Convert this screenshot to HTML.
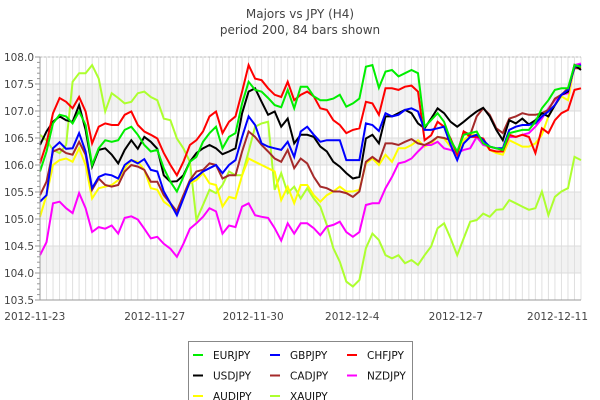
<!DOCTYPE html>
<html><head><meta charset="utf-8"><style>
body{margin:0;background:#fff;}
svg{display:block;font-family:"DejaVu Sans","Liberation Sans",sans-serif;}
</style></head><body>
<svg id="chart" width="600" height="400" viewBox="0 0 600 400">
<text x="300" y="18" text-anchor="middle" font-size="12" fill="#444">Majors vs JPY (H4)</text>
<text x="300" y="34" text-anchor="middle" font-size="12" fill="#444">period 200, 84 bars shown</text>
<g id="grid"></g>
<g id="series"></g>
<g id="axes"></g>
<g id="legend"></g>
</svg>
<script>
const names = ["EURJPY","GBPJPY","CHFJPY","USDJPY","CADJPY","NZDJPY","AUDJPY","XAUJPY"];
const colors = ["#00ee00","#0000ff","#ff0000","#000000","#a52a2a","#ff00ff","#ffff00","#adff2f"];
const yTicks = [103.5,104.0,104.5,105.0,105.5,106.0,106.5,107.0,107.5,108.0];
const xTickLabels = ["2012-11-23","2012-11-27","2012-11-30","2012-12-4","2012-12-7","2012-12-11"];
const xTickBars = [-0.8,17.6,32.7,47.9,63.8,79.4];
const eurjpy = [105.88,106.25,106.77,106.93,106.9,106.77,106.99,106.74,106.0,106.31,106.46,106.43,106.46,106.65,106.71,106.56,106.37,106.25,106.28,105.94,105.69,105.51,
105.78,106.06,106.15,106.43,106.59,106.71,106.31,106.52,106.59,107.14,107.54,107.39,107.36,107.24,107.11,107.07,107.39,107.05,107.45,
107.45,107.27,107.2,107.2,107.23,107.3,107.08,107.14,107.23,107.82,107.85,107.43,107.73,107.76,107.64,107.7,107.76,107.7,106.71,106.83,106.96,
106.8,106.46,106.25,106.56,106.59,106.62,106.4,106.34,106.31,106.28,106.59,106.62,106.65,106.65,106.8,107.05,107.2,107.39,107.42,107.42,107.85,107.82];
const gbpjpy = [105.32,105.44,106.31,106.42,106.3,106.31,106.59,106.25,105.57,105.78,105.83,105.81,105.75,106.0,106.09,106.03,106.11,105.91,105.88,105.51,105.29,105.07,
105.38,105.69,105.78,105.88,105.94,106.0,105.85,106.0,106.09,106.52,106.9,106.74,106.4,106.34,106.31,106.28,106.43,106.15,106.62,
106.71,106.56,106.43,106.46,106.46,106.46,106.09,106.09,106.09,106.77,106.74,106.63,106.96,106.9,106.93,107.02,107.05,106.99,106.65,106.65,106.68,
106.71,106.37,106.09,106.4,106.52,106.56,106.46,106.34,106.31,106.31,106.65,106.71,106.74,106.74,106.77,106.9,106.99,107.11,107.3,107.39,107.82,107.85];
const chfjpy = [106.03,106.4,106.96,107.24,107.17,107.05,107.26,106.99,106.4,106.71,106.77,106.74,106.74,106.93,106.99,106.74,106.62,106.56,106.49,106.22,106.0,105.81,
106.06,106.37,106.46,106.62,106.9,106.99,106.59,106.8,106.9,107.36,107.85,107.6,107.57,107.42,107.3,107.26,107.54,107.2,107.3,
107.36,107.27,107.05,107.02,106.83,106.74,106.59,106.65,106.68,107.17,107.14,106.93,107.42,107.42,107.39,107.45,107.47,107.36,106.46,106.55,106.8,
106.71,106.49,106.19,106.62,106.52,106.52,106.49,106.28,106.25,106.25,106.56,106.52,106.56,106.52,106.22,106.68,106.59,106.83,106.96,107.02,107.39,107.42];
const usdjpy = [106.37,106.62,106.8,106.9,106.83,106.8,107.11,106.65,105.97,106.28,106.31,106.19,106.03,106.28,106.46,106.3,106.52,106.43,106.3,105.81,105.69,105.7,
105.81,106.06,106.22,106.31,106.37,106.31,106.2,106.25,106.31,106.96,107.36,107.42,107.17,106.93,106.99,106.71,106.86,106.4,106.56,
106.56,106.52,106.34,106.25,106.06,105.97,105.85,105.75,105.78,106.49,106.56,106.4,106.9,106.9,106.96,107.02,106.96,106.77,106.68,106.86,107.05,
106.96,106.8,106.71,106.8,106.9,106.99,107.06,106.9,106.65,106.46,106.83,106.77,106.86,106.75,106.83,106.96,106.9,107.11,107.3,107.36,107.85,107.76];
const cadjpy = [105.44,105.69,106.25,106.3,106.22,106.19,106.43,106.19,105.54,105.75,105.63,105.6,105.63,105.88,106.0,105.97,105.91,105.69,105.69,105.44,105.29,105.14,
105.44,105.72,105.88,105.91,106.03,106.0,105.75,105.81,105.81,106.25,106.62,106.52,106.37,106.25,106.12,106.06,106.28,105.94,106.12,
106.03,105.78,105.6,105.57,105.51,105.51,105.48,105.41,105.51,106.06,106.15,106.06,106.4,106.4,106.37,106.43,106.48,106.4,106.37,106.43,106.52,
106.5,106.46,106.22,106.62,106.56,106.9,107.05,106.93,106.68,106.59,106.86,106.9,106.96,106.93,106.93,106.96,107.02,107.23,107.3,107.42,107.79,107.79];
const nzdjpy = [104.33,104.57,105.29,105.32,105.2,105.11,105.48,105.2,104.76,104.85,104.82,104.88,104.73,105.02,105.05,104.99,104.82,104.64,104.67,104.54,104.45,104.3,
104.54,104.82,104.92,105.04,105.2,105.14,104.73,104.88,104.85,105.23,105.29,105.07,105.04,105.02,104.83,104.6,104.92,104.73,104.92,
104.92,104.83,104.7,104.86,104.89,104.95,104.76,104.67,104.76,105.26,105.29,105.29,105.57,105.78,106.03,106.06,106.12,106.25,106.37,106.37,106.43,
106.31,106.28,106.22,106.28,106.31,106.52,106.37,106.34,106.31,106.28,106.52,106.52,106.56,106.59,106.71,106.86,107.05,107.2,107.3,107.33,107.85,107.88];
const audjpy = [105.04,105.44,106.0,106.09,106.12,106.06,106.31,106.0,105.38,105.57,105.6,105.63,105.72,105.94,106.09,106.06,105.91,105.57,105.54,105.32,105.23,105.14,
105.44,105.66,105.72,105.85,105.66,105.63,105.23,105.41,105.38,105.81,106.12,106.06,106.0,105.94,105.88,105.35,105.6,105.29,105.63,
105.63,105.44,105.32,105.44,105.51,105.6,105.51,105.51,105.54,106.03,106.12,106.0,106.19,106.06,106.31,106.31,106.37,106.46,106.34,106.4,106.52,
106.49,106.34,106.19,106.46,106.56,106.56,106.43,106.28,106.22,106.19,106.46,106.4,106.34,106.34,106.4,106.56,106.9,107.11,107.27,107.2,107.85,107.79];
const xaujpy = [106.56,106.46,106.28,106.22,106.37,107.54,107.7,107.7,107.85,107.6,106.99,107.33,107.24,107.14,107.17,107.33,107.36,107.26,107.2,106.86,106.83,106.49,
106.31,106.06,104.98,105.26,105.54,105.48,105.63,105.88,105.81,105.81,106.25,106.71,106.77,106.8,105.54,105.85,105.48,105.6,105.38,
105.57,105.38,105.23,104.89,104.46,104.21,103.84,103.75,103.87,104.46,104.73,104.61,104.33,104.27,104.33,104.18,104.24,104.15,104.33,104.49,104.83,
104.92,104.64,104.33,104.64,104.95,104.98,105.1,105.04,105.17,105.18,105.35,105.29,105.23,105.17,105.2,105.51,105.07,105.41,105.51,105.57,106.15,106.09];
const seriesData = [eurjpy,gbpjpy,chfjpy,usdjpy,cadjpy,nzdjpy,audjpy,xaujpy];
const drawOrder = [7,6,5,4,3,2,1,0];

const NS="http://www.w3.org/2000/svg";
const L=40,R=581,T=57,B=300,yMin=103.5,yMax=108.0,nBars=84;
const xs=i=>L+(R-L)*i/(nBars-1);
const ys=v=>B-(B-T)*(v-yMin)/(yMax-yMin);
function mk(tag,attrs,parent){const e=document.createElementNS(NS,tag);for(const k in attrs)e.setAttribute(k,attrs[k]);parent.appendChild(e);return e;}
const grid=document.getElementById('grid'),axes=document.getElementById('axes'),ser=document.getElementById('series'),leg=document.getElementById('legend');
for(let k=0;k<yTicks.length-1;k++){
  if(k%2===1){const b=mk('rect',{x:L,y:ys(yTicks[k+1]),width:R-L,height:ys(yTicks[k])-ys(yTicks[k+1]),fill:'#f2f2f2'},grid);
  
  }
}
for(let i=0;i<nBars;i++){const l=mk('line',{x1:xs(i),x2:xs(i),y1:T,y2:B,stroke:'#e0e0e0','stroke-width':1},grid);

}
yTicks.forEach(v=>{const l=mk('line',{x1:L,x2:R,y1:ys(v),y2:ys(v),stroke:'#dcdcdc','stroke-width':1},grid);

});
mk('line',{x1:L,x2:R,y1:T,y2:T,stroke:'#bbb','stroke-dasharray':'2,2'},grid);
drawOrder.forEach(s=>{
  const d=seriesData[s].map((v,i)=>(i?'L':'M')+xs(i).toFixed(1)+' '+ys(v).toFixed(1)).join(' ');
  const p=mk('path',{d:d,fill:'none',stroke:colors[s],'stroke-width':2,'stroke-linejoin':'miter'},ser);
  
  
});
mk('line',{x1:L,x2:L,y1:T,y2:B,stroke:'#999','stroke-width':1},axes);
mk('line',{x1:L,x2:R,y1:B,y2:B,stroke:'#999','stroke-width':1},axes);
for(let v=yMin;v<=yMax+1e-6;v+=0.1){const major=Math.abs(v*2-Math.round(v*2))<1e-6;
  mk('line',{x1:major?L-5:L-3,x2:L,y1:ys(v),y2:ys(v),stroke:'#999'},axes);}
yTicks.forEach(v=>{const t=mk('text',{x:L-6,y:ys(v)+4,'text-anchor':'end','font-size':10.5,fill:'#444'},axes);t.textContent=v.toFixed(1);

});
xTickLabels.forEach((lab,k)=>{const t=mk('text',{x:xs(xTickBars[k]),y:320,'text-anchor':'middle','font-size':10.5,fill:'#444'},axes);t.textContent=lab;

});
mk('rect',{x:188.5,y:341.5,width:224,height:70,fill:'#fff',stroke:'#888'},leg);
const legOrder=[0,1,2,3,4,5,6,7];
legOrder.forEach((s,k)=>{const col=k%3,row=Math.floor(k/3);const x=193+col*77,y=354+row*20.5;
  const g=mk('g',{},leg);
  
  
  mk('line',{x1:x,x2:x+10,y1:y+1,y2:y+1,stroke:colors[s],'stroke-width':2},g);
  const t=mk('text',{x:x+20,y:y+5,'font-size':10.5,fill:'#111'},g);t.textContent=names[s];});
</script>
</body></html>
